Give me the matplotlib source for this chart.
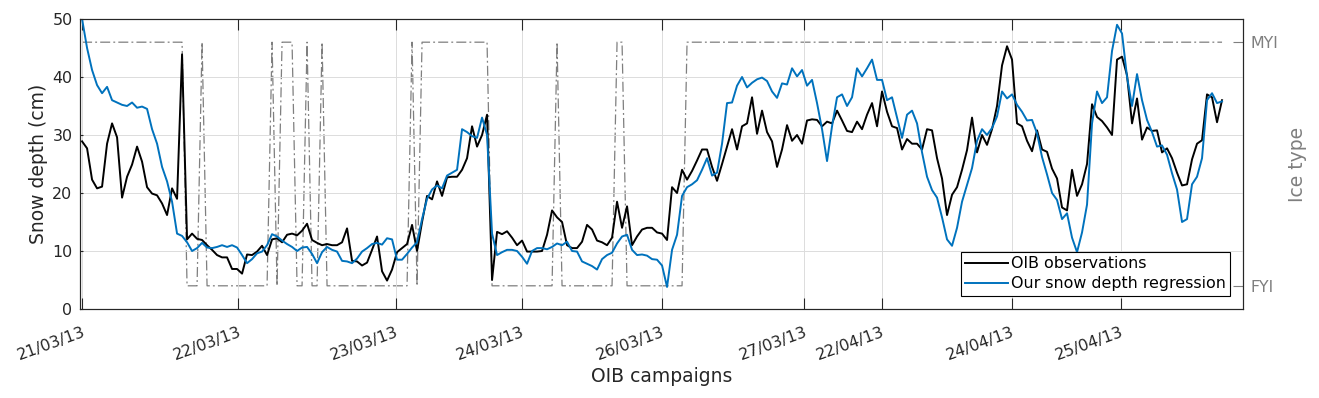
import numpy as np
import matplotlib.pyplot as plt

# snow depth along the OIB flight tracks (cm), one value per sample
oib_obs = [
    28.9, 27.7, 22.3, 20.8, 21.1, 28.5, 32.0, 29.6, 19.2, 22.8,
    24.9, 28.0, 25.4, 21.0, 19.9, 19.6, 18.2, 16.2, 20.8, 19.0,
    43.9, 12.0, 13.0, 12.1, 11.9, 11.0, 10.2, 9.3, 8.9, 8.9,
    6.9, 6.9, 6.1, 9.4, 9.3, 9.9, 10.9, 9.3, 12.0, 12.2,
    11.5, 12.8, 13.0, 12.7, 13.5, 14.7, 11.9, 11.4, 11.0, 11.2,
    11.0, 11.0, 11.5, 13.9, 8.3, 8.2, 7.5, 8.0, 10.2, 12.5,
    6.5, 4.9, 6.8, 9.8, 10.5, 11.2, 14.5, 10.0, 15.0, 19.5,
    18.9, 22.0, 19.5, 22.7, 22.8, 22.8, 24.0, 26.0, 31.5, 28.0,
    30.0, 33.5, 5.0, 13.3, 12.9, 13.4, 12.3, 11.0, 11.8, 9.9,
    9.9, 9.9, 10.0, 12.8, 17.0, 15.8, 15.0, 11.0, 10.5, 10.5,
    11.6, 14.5, 13.7, 11.8, 11.5, 11.0, 12.3, 18.5, 14.0, 17.7,
    11.0, 12.5, 13.7, 14.0, 14.0, 13.2, 13.0, 11.9, 21.0, 20.0,
    24.0, 22.3, 23.8, 25.6, 27.5, 27.5, 24.5, 22.1, 25.0, 28.0,
    31.0, 27.5, 31.5, 32.0, 36.5, 30.2, 34.2, 30.5, 28.9, 24.5,
    27.5, 31.7, 29.0, 30.0, 28.5, 32.5, 32.7, 32.6, 31.5, 32.3,
    32.0, 34.2, 32.5, 30.7, 30.5, 32.3, 31.0, 33.5, 35.5, 31.5,
    37.5, 34.0, 31.5, 31.2, 27.5, 29.3, 28.5, 28.5, 27.5, 31.0,
    30.8, 26.0, 22.5, 16.2, 19.7, 21.0, 24.0, 27.4, 33.0, 27.0,
    30.0, 28.3, 31.0, 35.0, 42.0, 45.3, 43.0, 32.0, 31.5, 29.0,
    27.2, 30.8, 27.5, 27.1, 24.2, 22.5, 17.5, 17.0, 24.0, 19.5,
    21.5, 25.0, 35.3, 33.1, 32.4, 31.3, 30.0, 43.0, 43.5, 40.3,
    32.0, 36.3, 29.2, 31.3, 30.7, 30.8, 27.0, 27.7, 26.0, 23.5,
    21.3, 21.5, 25.8, 28.5, 29.1, 37.0, 36.5, 32.2, 36.0,
]

snow_reg = [
    50.0, 45.0, 41.2, 38.6, 37.2, 38.3, 36.0, 35.6, 35.2, 35.0,
    35.6, 34.7, 34.9, 34.5, 31.0, 28.5, 24.5, 22.0, 18.5, 13.0,
    12.6, 11.5, 10.0, 10.5, 11.4, 10.6, 10.5, 10.7, 11.0, 10.7,
    11.0, 10.6, 9.3, 7.9, 8.6, 9.6, 9.9, 11.0, 12.9, 12.5,
    11.8, 11.2, 10.7, 10.0, 10.6, 10.7, 9.5, 7.9, 9.8, 10.7,
    10.2, 9.9, 8.3, 8.2, 7.9, 8.7, 9.9, 10.5, 11.2, 11.4,
    11.1, 12.2, 12.0, 8.5, 8.5, 9.5, 10.6, 11.5, 15.5, 19.0,
    20.6, 21.3, 20.8, 23.0, 23.5, 24.0, 31.0, 30.5, 29.8, 29.5,
    33.0, 30.0, 13.0, 9.3, 9.8, 10.2, 10.2, 10.0, 9.0, 7.8,
    10.0, 10.5, 10.5, 10.3, 10.7, 11.3, 11.0, 11.6, 10.0, 9.9,
    8.2, 7.8, 7.4, 6.8, 8.6, 9.3, 9.7, 11.3, 12.5, 12.8,
    10.2, 9.3, 9.4, 9.2, 8.6, 8.5, 7.5, 3.8, 10.2, 12.8,
    19.5, 21.0, 21.5, 22.2, 24.0, 26.0, 23.0, 23.5, 28.5, 35.5,
    35.6, 38.5, 40.0, 38.2, 39.0, 39.6, 39.9, 39.3, 37.5, 36.4,
    38.9, 38.7, 41.5, 40.1, 41.2, 38.5, 39.5, 35.5, 31.0, 25.5,
    31.5, 36.5, 37.0, 35.0, 36.5, 41.5, 40.1, 41.5, 43.0, 39.5,
    39.5, 36.0, 36.5, 33.0, 29.5, 33.5, 34.2, 32.0, 27.0, 22.8,
    20.5, 19.2, 15.8, 12.0, 10.9, 14.0, 18.5, 21.4, 24.3, 29.0,
    31.0, 30.0, 31.2, 33.2, 37.5, 36.3, 37.0, 35.2, 34.0, 32.5,
    32.6, 30.3, 26.2, 23.2, 20.0, 18.8, 15.5, 16.5, 12.3, 9.8,
    13.2, 18.0, 32.0, 37.5, 35.5, 36.5, 44.5, 49.0, 47.5, 40.0,
    35.0, 40.5, 36.0, 32.6, 30.5, 28.0, 28.2, 26.6, 23.4, 20.6,
    15.0, 15.5, 21.5, 22.8, 26.0, 36.0, 37.2, 35.5, 35.8,
]

# ice type per sample: 1 = MYI, 0 = FYI
ice_code = ("1111111111" "1111111111" "1000100000" "0000000010"
            "1110010010" "0000000000" "0000001011" "1111111111"
            "1100000000" "0000010000" "0000000110" "0000000000"
            "0111111111" "1111111111" "1111111111" "1111111111"
            "1111111111" "1111111111" "1111111111" "1111111111"
            "1111111111" "1111111111" "111111111")
ice_type = [int(c) for c in ice_code]

campaign_pos = [0, 31.2, 62.7, 87.9, 115.9, 144.4, 159.9, 185.9, 207.7]
campaign_lbl = ['21/03/13', '22/03/13', '23/03/13', '24/03/13', '26/03/13',
                '27/03/13', '22/04/13', '24/04/13', '25/04/13']

txt = '#262626'
grey = '#7f7f7f'
blue = '#0072BD'

plt.rcParams['font.family'] = 'DejaVu Sans'

fig = plt.figure(figsize=(13.19, 3.98), dpi=100)
ax = fig.add_axes([0.0607, 0.2236, 0.8817, 0.7287])
ax2 = ax.twinx()

x = np.arange(len(oib_obs))

# ice type on the right axis, drawn behind
ax2.plot(np.arange(len(ice_type)), ice_type, color=grey, lw=0.9,
         dashes=(8, 2.5, 1.5, 2.5))
ax2.set_ylim(-4 / 42., 46 / 42.)
ax2.set_yticks([0, 1])
ax2.set_yticklabels(['FYI', 'MYI'])
ax2.tick_params(axis='y', direction='in', length=7, pad=5.5,
                labelsize=11.4, colors=grey, labelcolor=grey)
ax2.set_ylabel('Ice type', fontsize=13.5, color=grey, labelpad=7)

ax.set_zorder(ax2.get_zorder() + 1)
ax.patch.set_visible(False)

ax.plot(x, oib_obs, color='k', lw=1.4, label='OIB observations')
ax.plot(x, snow_reg, color=blue, lw=1.4, label='Our snow depth regression')

ax.set_xlim(-0.4, 232.2)
ax.set_ylim(0, 50)
ax.set_yticks([0, 10, 20, 30, 40, 50])
ax.set_xticks(campaign_pos)
ax.set_xticklabels(campaign_lbl, rotation=20, ha='right',
                   rotation_mode='anchor')
ax.tick_params(axis='x', direction='in', length=8, pad=11, top=True,
               labelsize=11.4, colors=txt)
ax.tick_params(axis='y', direction='in', length=2.5, pad=5.5,
               labelsize=11.4, colors=txt)
ax.grid(True, color='#dcdcdc', lw=0.7)
ax.set_axisbelow(True)

ax.set_xlabel('OIB campaigns', fontsize=13.5, color=txt, labelpad=3)
ax.set_ylabel('Snow depth (cm)', fontsize=13.5, color=txt, labelpad=3)

for sp in ax.spines.values():
    sp.set_color(txt)
for sp in ax2.spines.values():
    sp.set_color(txt)

leg = ax.legend(loc='lower right', bbox_to_anchor=(0.989, 0.045),
                borderaxespad=0, fontsize=11.4, fancybox=False,
                edgecolor='k', framealpha=1, handlelength=2.7,
                handletextpad=0.15, labelspacing=0.3, borderpad=0.3)
leg.get_frame().set_linewidth(0.8)

fig.savefig('out.png', dpi=100)
